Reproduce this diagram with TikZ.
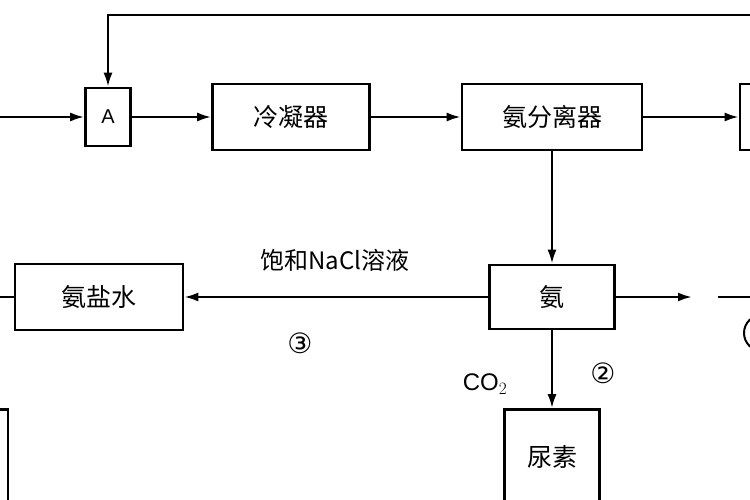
\documentclass[tikz,border=0pt]{standalone}
\usepackage{fontspec}
\setmainfont{Liberation Sans}
\newfontfamily\cjk{Noto Sans CJK SC}
\newfontfamily\djvfont{DejaVu Sans}
\usetikzlibrary{arrows.meta}
\begin{document}
\begin{tikzpicture}[x=1pt,y=-1pt,
  box/.style={draw,line width=2.6pt,minimum width=#1,inner sep=0pt,font=\cjk\fontsize{25}{25}\selectfont},
  box/.default=100pt,
  arr/.style={line width=2.4pt,-{Latex[length=14pt,width=9pt]}},
  ln/.style={line width=2.4pt},
  lab/.style={font=\djvfont\fontsize{28}{28}\selectfont}]
\useasboundingbox (0,0) rectangle (750,500);
\begin{scope}
\clip (0,0) rectangle (750,500);
\node[box=45pt,minimum height=58pt,font=\fontsize{20}{20}\selectfont] (A) at (108,117) {A};
\node[box=157pt,minimum height=66pt] (lng) at (291,117) {冷凝器};
\node[box=180pt,minimum height=66pt] (sep) at (552,117) {氨分离器};
\node[box=60pt,minimum height=66pt] (r) at (770,117) {};
\node[box=125pt,minimum height=64pt] (an) at (552,297) {氨};
\node[box=168pt,minimum height=66pt] (ys) at (99,297) {氨盐水};
\node[box=95pt,minimum height=95pt] (ns) at (552,457) {尿素};
\node[box=60pt,minimum height=95pt] (bl) at (-22,457) {};
\coordinate (L0) at (0,117);
\coordinate (L1) at (0,297);
\coordinate (T1) at (108,15);
\coordinate (T2) at (750,15);
\coordinate (R1) at (692,297);
\coordinate (R2) at (718,297);
\coordinate (R3) at (750,297);
\draw[arr] (L0) -- (A);
\draw[arr] (A) -- (lng);
\draw[arr] (lng) -- (sep);
\draw[arr] (sep) -- (r);
\draw[arr] (T2) -- (T1) -- (A.north);
\draw[arr] (sep.south) -- (an.north);
\draw[arr] (an) -- (ys);
\draw[ln] (L1) -- (ys.west);
\draw[arr] (an.east) -- (R1);
\draw[ln] (R2) -- (R3);
\draw[arr] (an.south) -- (ns.north);
\draw[line width=2pt] (762,333) circle (18pt);
\end{scope}
\node[font=\cjk\fontsize{24}{24}\selectfont] (t1) at (335,260) {饱和NaCl溶液};
\node[lab] (c3) at (300,343) {③};
\node[lab] (c2) at (603,373) {②};
\node[font=\fontsize{24}{24}\selectfont] (co) at (485,384) {CO$_2$};
\end{tikzpicture}
\end{document}
